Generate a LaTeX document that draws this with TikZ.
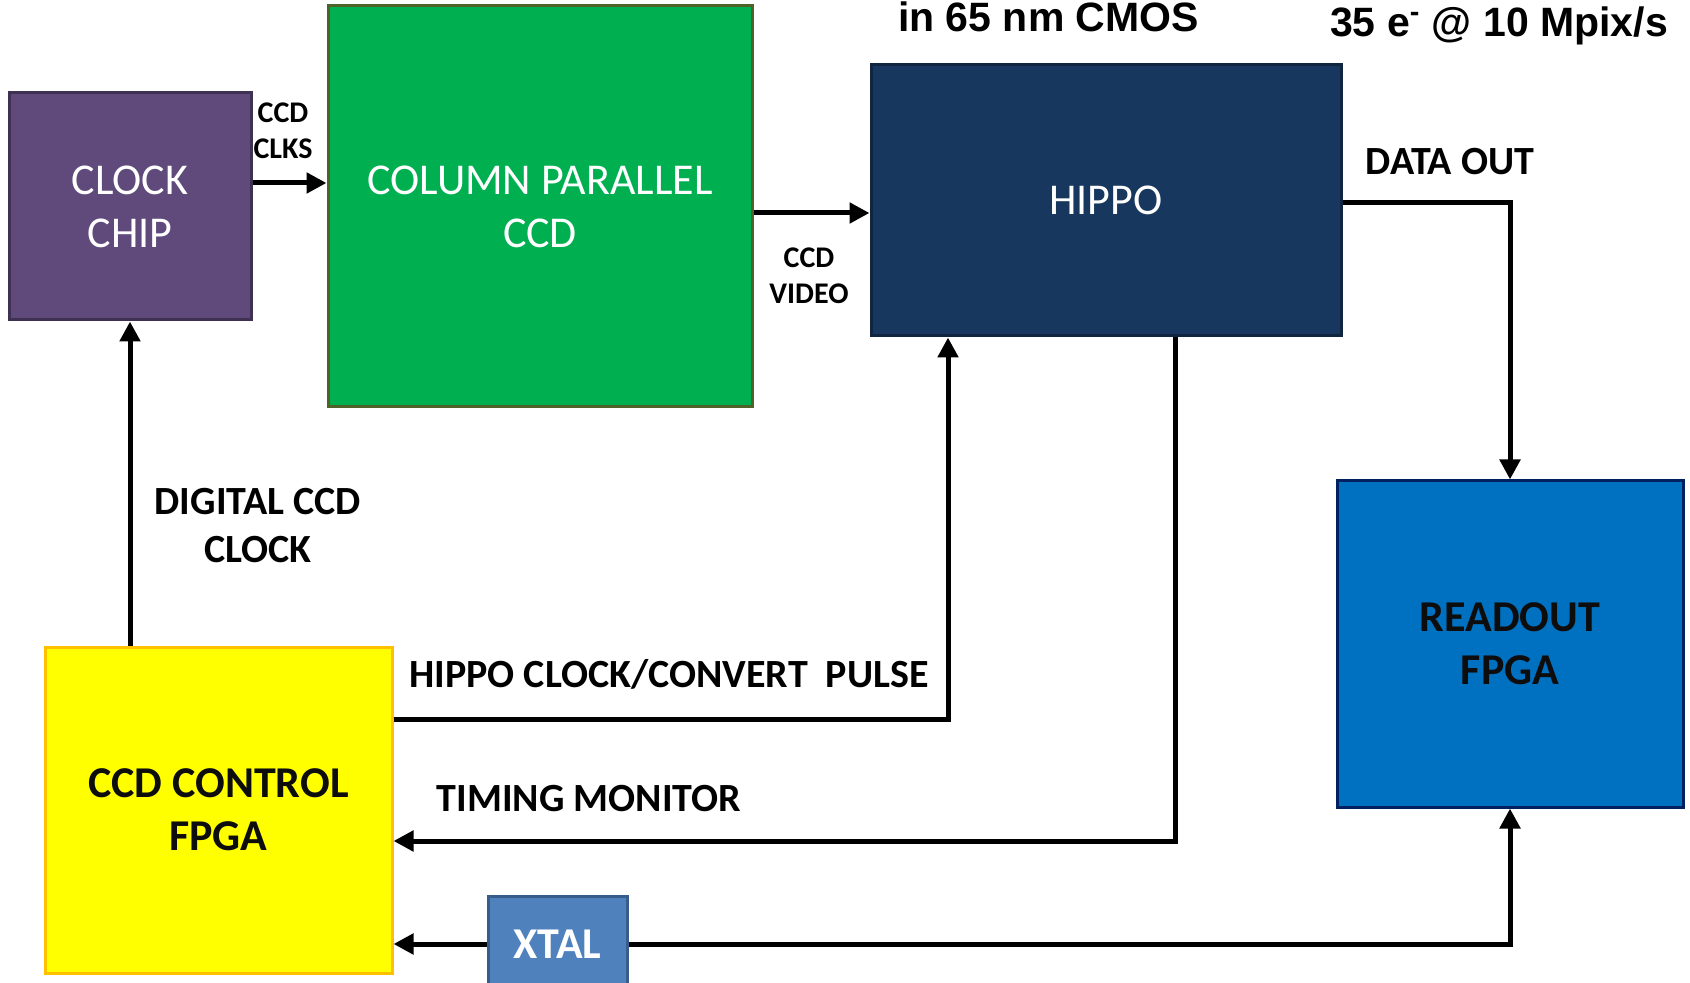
\documentclass[tikz,border=0pt]{standalone}
\usepackage{fontspec}
\setmainfont{Carlito}
\newfontfamily\arialfont{Liberation Sans}
\usetikzlibrary{arrows.meta}
\definecolor{purpfill}{HTML}{604A7B}
\definecolor{purpline}{HTML}{3F3151}
\definecolor{grnfill}{HTML}{00B050}
\definecolor{grnline}{HTML}{4F6228}
\definecolor{navyfill}{HTML}{17375E}
\definecolor{navyline}{HTML}{10253F}
\definecolor{bluefill}{HTML}{0070C0}
\definecolor{blueline}{HTML}{002060}
\definecolor{yelfill}{HTML}{FFFF00}
\definecolor{yelline}{HTML}{FFC000}
\definecolor{xtfill}{HTML}{4F81BD}
\definecolor{xtline}{HTML}{385D8A}
\definecolor{txtdark}{HTML}{0D0D0D}
\tikzset{
  box/.style={draw, line width=1.5pt, inner sep=0pt, align=center,
    font=\fontsize{22pt}{26.5pt}\selectfont},
  boxb/.style={box, font=\bfseries\fontsize{22pt}{26.5pt}\selectfont},
  arr/.style={line width=2.5pt, -{Triangle[length=10pt,width=10pt]}},
  lbl/.style={font=\bfseries\fontsize{20pt}{24pt}\selectfont, align=center, inner sep=0pt},
  slbl/.style={font=\bfseries\fontsize{15pt}{18pt}\selectfont, align=center, inner sep=0pt},
  toptxt/.style={font=\arialfont\bfseries\fontsize{20.5pt}{24pt}\selectfont, anchor=base, inner sep=0pt}
}
\begin{document}
\begin{tikzpicture}[x=0.5pt,y=-0.5pt]
\useasboundingbox (0,0) rectangle (1690,983);
\clip (0,0) rectangle (1690,983);
% boxes
\node[box, fill=purpfill, draw=purpline, text=white, minimum width=121pt, minimum height=113.5pt] (clock) at (130,206.5) {CLOCK\\CHIP};
\node[box, fill=grnfill, draw=grnline, text=white, minimum width=212pt, minimum height=200.5pt] (ccd) at (540,206.5) {COLUMN PARALLEL\\CCD};
\node[box, fill=navyfill, draw=navyline, text=white, minimum width=235pt, minimum height=135.5pt] (hippo) at (1106,200.5) {HIPPO};
\node[boxb, fill=bluefill, draw=blueline, text=txtdark, minimum width=173pt, minimum height=163pt] (readout) at (1510,644) {READOUT\\FPGA};
\node[boxb, fill=yelfill, draw=yelline, text=txtdark, minimum width=173.5pt, minimum height=163pt] (ctrl) at (218.5,810) {CCD CONTROL\\FPGA};
\node[boxb, fill=xtfill, draw=xtline, text=white, minimum width=69.5pt, minimum height=48pt] (xtal) at (557.5,944) {XTAL};
% helper coordinates
\coordinate (yclk) at (0,183);
\coordinate (yvid) at (0,213);
\coordinate (ydo) at (0,203);
\coordinate (yhp) at (0,719);
\coordinate (ytm) at (0,841);
\coordinate (xhp) at (948,0);
\coordinate (xtm) at (1175,0);
% connectors
\draw[arr] (clock.east|-yclk) -- (ccd.west|-yclk);
\draw[arr] (ccd.east|-yvid) -- (hippo.west|-yvid);
\draw[arr] (hippo.east|-ydo) -| (readout.north);
\draw[arr] (ctrl.east|-yhp) -| (xhp|-hippo.south);
\draw[arr] (xtm|-hippo.south) |- (ctrl.east|-ytm);
\draw[arr] (xtal.west) -- (ctrl.east|-xtal.west);
\draw[arr] (xtal.east) -| (readout.south);
\draw[arr] (clock.south|-ctrl.north) -- (clock.south);
% labels
\node[slbl] (lclk) at (283,131) {CCD\\CLKS};
\node[slbl] (lvid) at (809,275.5) {CCD\\VIDEO};
\node[lbl] (ldo) at (1450,162) {DATA OUT};
\node[lbl] (ldig) at (258,526) {DIGITAL CCD\\CLOCK};
\node[lbl] (lhp) at (669,674) {HIPPO CLOCK/CONVERT\ \ PULSE};
\node[lbl] (ltm) at (589,799) {TIMING MONITOR};
% top texts
\node[toptxt] (t1) at (1048.5,32) {in 65 nm CMOS};
\node[toptxt] (t2) at (1499,37) {35 e\textsuperscript{-} @ 10 Mpix/s};
\end{tikzpicture}
\end{document}
